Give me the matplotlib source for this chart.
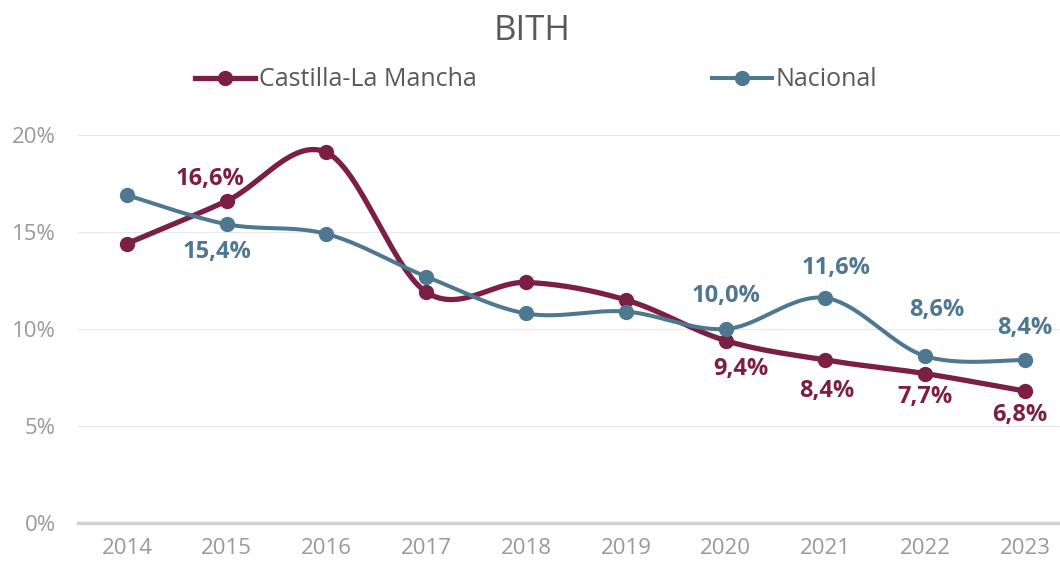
import numpy as np
import matplotlib.pyplot as plt
from matplotlib.ticker import FuncFormatter

plt.rcParams['font.family'] = ['Open Sans', 'DejaVu Sans']

years = [2014, 2015, 2016, 2017, 2018, 2019, 2020, 2021, 2022, 2023]
clm = [14.4, 16.6, 19.1, 11.9, 12.4, 11.5, 9.4, 8.4, 7.7, 6.8]
nacional = [16.9, 15.4, 14.9, 12.7, 10.8, 10.9, 10.0, 11.6, 8.6, 8.4]

# etiquetas visibles: indice -> desplazamiento (px)
clm_labels = {1: (-17, 22), 6: (15, -28), 7: (1, -31), 8: (0, -23), 9: (-5, -24)}
nac_labels = {1: (-10, -28), 6: (0, 33), 7: (11, 30), 8: (11, 46), 9: (0, 32)}

c_clm = '#7B1F45'
c_nac = '#4E7790'


def smooth(x, y, n=30):
    # curva suavizada tipo Excel (Bezier con tangentes Catmull-Rom)
    x = np.asarray(x, float)
    y = np.asarray(y, float)
    px = np.concatenate([[x[0]], x, [x[-1]]])
    py = np.concatenate([[y[0]], y, [y[-1]]])
    t = np.linspace(0, 1, n)
    xs, ys = [], []
    for i in range(1, len(px) - 2):
        p0 = np.array([px[i], py[i]])
        p3 = np.array([px[i + 1], py[i + 1]])
        p1 = p0 + (p3 - np.array([px[i - 1], py[i - 1]])) / 6
        p2 = p3 - (np.array([px[i + 2], py[i + 2]]) - p0) / 6
        b = ((1 - t) ** 3)[:, None] * p0 + (3 * (1 - t) ** 2 * t)[:, None] * p1 \
            + (3 * (1 - t) * t ** 2)[:, None] * p2 + (t ** 3)[:, None] * p3
        xs.extend(b[:, 0])
        ys.extend(b[:, 1])
    return xs, ys


fig = plt.figure(figsize=(10.6, 5.64), dpi=100)
ax = fig.add_axes([78 / 1060, 41 / 564, 982 / 1060, 388 / 564])

for vals, col, lw, lab in [(clm, c_clm, 3.8, 'Castilla-La Mancha'),
                           (nacional, c_nac, 2.9, 'Nacional')]:
    sx, sy = smooth(years, vals)
    ax.plot(sx, sy, color=col, lw=lw, solid_capstyle='round', clip_on=False, zorder=3)
    ax.plot(years, vals, 'o', color=col, ms=10, clip_on=False, zorder=4)
    ax.plot([], [], color=col, lw=lw, marker='o', ms=10, label=lab)

for vals, col, labs in [(clm, c_clm, clm_labels), (nacional, c_nac, nac_labels)]:
    for i, (dx, dy) in labs.items():
        ax.annotate(f'{vals[i]:.1f}%'.replace('.', ','), (years[i], vals[i]),
                    xytext=(dx * 0.72, dy * 0.72), textcoords='offset points',
                    ha='center', va='center', fontsize=17, fontweight='bold',
                    color=col, zorder=5)

ax.set_xlim(2014 - 0.49, 2023 + 0.35)
ax.set_ylim(0, 20)
ax.set_xticks(years)
ax.set_yticks([0, 5, 10, 15, 20])
ax.yaxis.set_major_formatter(FuncFormatter(lambda v, p: f'{v:.0f}%'))
ax.tick_params(length=0, labelsize=16, colors='#999999', pad=11)
ax.tick_params(axis='y', pad=16)
ax.grid(axis='y', color='#E8E8E8', lw=0.8)
ax.set_axisbelow(True)
for s in ['top', 'right', 'left']:
    ax.spines[s].set_visible(False)
ax.spines['bottom'].set_color('#D0D0D0')
ax.spines['bottom'].set_linewidth(2.5)

fig.text(532 / 1060, 1 - 31 / 564, 'BITH', ha='center', va='center',
         fontsize=25, color='#595959')
fig.legend(loc='center', bbox_to_anchor=(536 / 1060, 1 - 80 / 564), ncol=2,
           frameon=False, fontsize=18, handlelength=2.4, handletextpad=0.15,
           columnspacing=9.4, labelcolor='#595959')

fig.savefig('out.png', dpi=100)
